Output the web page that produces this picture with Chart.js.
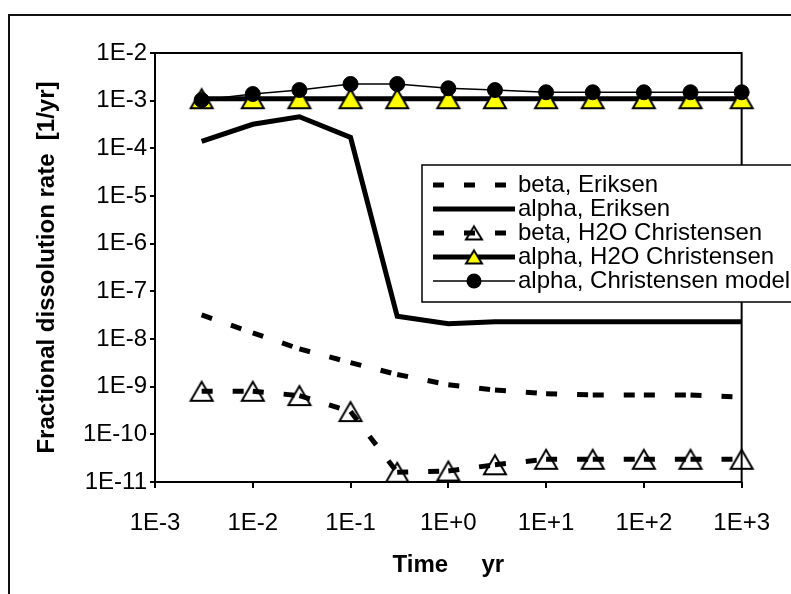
<!DOCTYPE html>
<html>
<head>
<meta charset="utf-8">
<script src="https://cdn.jsdelivr.net/npm/chart.js@4"></script>
<style>
  html, body { margin: 0; padding: 0; background: #fff; }
  canvas { display: block; }
</style>
</head>
<body>
<canvas id="chart" width="791" height="594"></canvas>
<script>
// values (time in years, rate in 1/yr)
const timeYr = [0.003, 0.01, 0.03, 0.1, 0.3, 1, 3, 10, 30, 100, 300, 1000]
const betaEriksen = [3.2e-8, 1.35e-8, 6.2e-9, 3.2e-9, 1.8e-9, 1.1e-9, 8.5e-10, 7.1e-10, 6.7e-10, 6.7e-10, 6.7e-10, 6.0e-10]
const alphaEriksen = [1.4e-4, 3.2e-4, 4.6e-4, 1.7e-4, 3.0e-8, 2.1e-8, 2.3e-8, 2.3e-8, 2.3e-8, 2.3e-8, 2.3e-8, 2.3e-8]
const betaH2OChristensen = [8e-10, 8e-10, 6.5e-10, 3e-10, 1.6e-11, 1.7e-11, 2.3e-11, 3e-11, 3e-11, 3e-11, 3e-11, 3e-11]
const alphaH2OChristensen = [1.1e-3, 1.1e-3, 1.1e-3, 1.1e-3, 1.1e-3, 1.1e-3, 1.1e-3, 1.1e-3, 1.1e-3, 1.1e-3, 1.1e-3, 1.1e-3]
const alphaChristensenModel = [1.03e-3, 1.38e-3, 1.67e-3, 2.24e-3, 2.24e-3, 1.82e-3, 1.67e-3, 1.5e-3, 1.5e-3, 1.5e-3, 1.5e-3, 1.5e-3]

const seriesNames = ['beta, Eriksen', 'alpha, Eriksen', 'beta, H2O Christensen', 'alpha, H2O Christensen', 'alpha, Christensen model']
const xTickLabels = ['1E-3', '1E-2', '1E-1', '1E+0', '1E+1', '1E+2', '1E+3']
const yTickLabels = ['1E-11', '1E-10', '1E-9', '1E-8', '1E-7', '1E-6', '1E-5', '1E-4', '1E-3', '1E-2']
const xTitle = 'Time     yr'
const yTitle = 'Fractional dissolution rate  [1/yr]'

const FONT = "'Liberation Sans', Arial, sans-serif"
const DASH = [11, 20]

// triangle marker centred on its bounding box, like the spreadsheet draws it
function makeTri (w, h, fill) {
  const pad = 3
  const c = document.createElement('canvas')
  c.width = Math.round(w + pad * 2)
  c.height = Math.round(h + pad * 2)
  const g = c.getContext('2d')
  g.beginPath()
  g.moveTo(c.width / 2, pad)
  g.lineTo(pad + w, pad + h)
  g.lineTo(pad, pad + h)
  g.closePath()
  if (fill) { g.fillStyle = fill; g.fill() }
  g.lineWidth = 2
  g.strokeStyle = '#000'
  g.stroke()
  return c
}
const triYellow = makeTri(22, 19, '#ffff00')
const triOpen = makeTri(22, 19, null)
const triYellowSmall = makeTri(16, 13, '#ffff00')
const triOpenSmall = makeTri(16, 13, null)

const pts = arr => timeYr.map((t, i) => ({ x: t, y: arr[i] }))
// restart the dash pattern on every segment
const restartDash = { borderDashOffset: c => (c.p0DataIndex % 2) * 0.001 }

const datasets = [
  { label: seriesNames[0], data: pts(betaEriksen), borderColor: '#000', borderWidth: 5, borderDash: DASH, pointRadius: 0, segment: restartDash },
  { label: seriesNames[1], data: pts(alphaEriksen), borderColor: '#000', borderWidth: 5, pointRadius: 0 },
  { label: seriesNames[2], data: pts(betaH2OChristensen), borderColor: '#000', borderWidth: 5, borderDash: DASH, segment: restartDash, pointStyle: triOpen, pointRadius: 10 },
  { label: seriesNames[3], data: pts(alphaH2OChristensen), borderColor: '#000', borderWidth: 5, pointStyle: triYellow, pointRadius: 10 },
  { label: seriesNames[4], data: pts(alphaChristensenModel), borderColor: '#000', borderWidth: 1.5, pointStyle: 'circle', pointRadius: 7.5, pointBackgroundColor: '#000', pointBorderColor: '#000', pointBorderWidth: 1 }
].map((d, i) => Object.assign({ order: seriesNames.length - 1 - i, tension: 0, clip: false, borderCapStyle: 'butt', backgroundColor: '#000' }, d))

const framePlugin = {
  id: 'frame',
  beforeDraw (chart) {
    const ctx = chart.ctx
    ctx.save()
    ctx.fillStyle = '#fff'
    ctx.fillRect(0, 0, chart.width, chart.height)
    ctx.strokeStyle = '#111'
    ctx.lineWidth = 2
    ctx.strokeRect(9, 15, 1000, 1000)
    ctx.restore()
  },
  beforeDatasetsDraw (chart) {
    const { ctx, chartArea: a } = chart
    ctx.save()
    ctx.strokeStyle = '#000'
    ctx.lineWidth = 2
    ctx.strokeRect(a.left, a.top, a.right - a.left, a.bottom - a.top)
    ctx.restore()
  }
}

const legendPlugin = {
  id: 'boxLegend',
  afterDraw (chart) {
    const ctx = chart.ctx
    const x0 = 422; const y0 = 165
    ctx.save()
    ctx.fillStyle = '#fff'
    ctx.fillRect(x0, y0, 400, 137)
    ctx.strokeStyle = '#000'
    ctx.lineWidth = 1.5
    ctx.strokeRect(x0, y0, 400, 137)
    const rows = [185, 209, 233, 257, 281]
    const sx0 = 433; const sx1 = 515; const mx = 474
    rows.forEach((y, i) => {
      const ds = datasets[i]
      ctx.strokeStyle = '#000'
      ctx.lineWidth = ds.borderWidth
      ctx.lineCap = 'butt'
      ctx.setLineDash(ds.borderDash || [])
      ctx.beginPath()
      ctx.moveTo(sx0, y)
      ctx.lineTo(sx1, y)
      ctx.stroke()
      ctx.setLineDash([])
      if (i === 2) ctx.drawImage(triOpenSmall, mx - triOpenSmall.width / 2, y - triOpenSmall.height / 2)
      if (i === 3) ctx.drawImage(triYellowSmall, mx - triYellowSmall.width / 2, y - triYellowSmall.height / 2)
      if (i === 4) {
        ctx.fillStyle = '#000'
        ctx.beginPath()
        ctx.arc(mx, y, 7.5, 0, Math.PI * 2)
        ctx.fill()
      }
      ctx.fillStyle = '#000'
      ctx.font = '24px ' + FONT
      ctx.textAlign = 'left'
      ctx.textBaseline = 'middle'
      ctx.fillText(seriesNames[i], 518, y)
    })
    ctx.restore()
  }
}

const tickFont = { family: FONT, size: 24 }
const titleFont = { family: FONT, size: 24, weight: 'bold' }

new Chart(document.getElementById('chart'), {
  type: 'line',
  data: { datasets },
  options: {
    responsive: false,
    animation: false,
    devicePixelRatio: 1,
    layout: { padding: { left: 0, top: 53, right: 45, bottom: 0 } },
    plugins: { legend: { display: false }, tooltip: { enabled: false } },
    scales: {
      x: {
        type: 'logarithmic',
        min: 1e-3,
        max: 1e3,
        afterFit: s => { s.height = 112 },
        afterBuildTicks: s => { s.ticks = xTickLabels.map(l => ({ value: Number(l) })) },
        ticks: { font: tickFont, color: '#000', padding: 21, autoSkip: false, maxRotation: 0, callback: (v, i) => xTickLabels[i] },
        grid: { drawOnChartArea: false, drawTicks: true, tickLength: 6, color: '#000', lineWidth: 2 },
        border: { display: false },
        title: { display: true, text: xTitle, font: titleFont, color: '#000', padding: { top: 0, bottom: 14 } }
      },
      y: {
        type: 'logarithmic',
        min: 1e-11,
        max: 1e-2,
        afterFit: s => { s.width = 155 },
        afterBuildTicks: s => { s.ticks = yTickLabels.map(l => ({ value: Number(l) })) },
        ticks: { font: tickFont, color: '#000', padding: 3, autoSkip: false, callback: (v, i) => yTickLabels[i] },
        grid: { drawOnChartArea: false, drawTicks: true, tickLength: 5, color: '#000', lineWidth: 2 },
        border: { display: false },
        title: { display: true, text: yTitle, font: titleFont, color: '#000', padding: { top: 33, bottom: 0 } }
      }
    }
  },
  plugins: [framePlugin, legendPlugin]
})
</script>
</body>
</html>
